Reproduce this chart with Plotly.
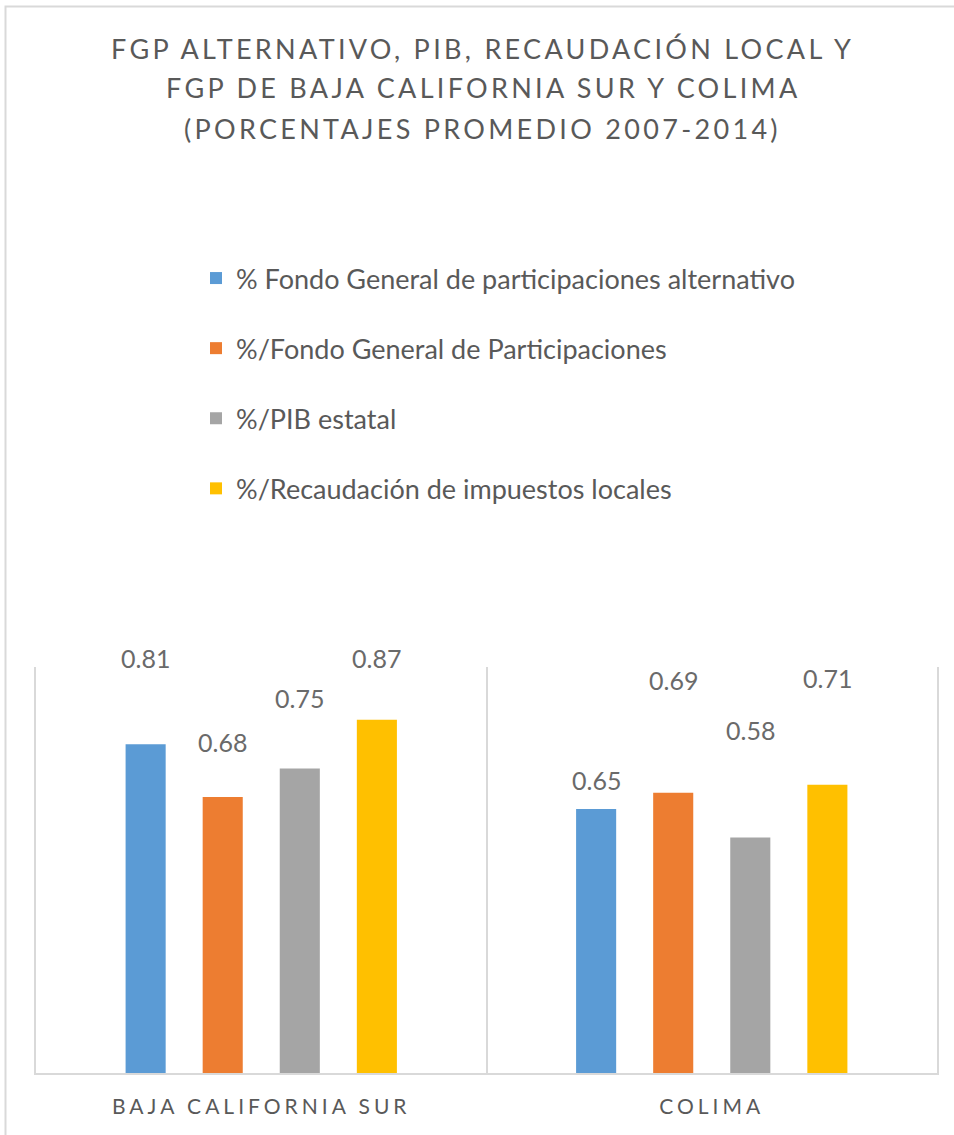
import plotly.graph_objects as go

# Entidades y series (porcentajes promedio 2007-2014)
categorias = ["BAJA CALIFORNIA SUR", "COLIMA"]
series = [
    "% Fondo General de participaciones alternativo",
    "%/Fondo General de Participaciones",
    "%/PIB estatal",
    "%/Recaudación de impuestos locales",
]
fgp_alternativo = [0.81, 0.65]
fgp = [0.68, 0.69]
pib_estatal = [0.75, 0.58]
recaudacion_local = [0.87, 0.71]
valores = [fgp_alternativo, fgp, pib_estatal, recaudacion_local]

titulo_lineas = [
    "FGP ALTERNATIVO, PIB, RECAUDACIÓN LOCAL Y",
    "FGP DE BAJA CALIFORNIA SUR Y COLIMA",
    "(PORCENTAJES PROMEDIO 2007-2014)",
]

colores = ["#5B9BD5", "#ED7D31", "#A5A5A5", "#FFC000"]
# desplazamiento vertical (px) de cada etiqueta sobre su barra, por entidad
desfase_etiquetas = [[86, 29], [55, 113], [71, 108], [62, 107]]
# desplazamiento horizontal (px) de cada serie dentro del grupo
desfase_series = [-115.5, -38.5, 38.5, 115.5]

W, H = 954, 1135
ML, MR, MT, MB = 36, 17, 667, 62
GRIS_TEXTO = "#595959"
GRIS_LINEA = "#D9D9D9"
FUENTE = "Lato, 'Open Sans', sans-serif"


def espaciado(texto, px):
    return f'<span style="letter-spacing:{px}px">{texto}</span>'


pw = W - ML - MR
ph = H - MT - MB


def px_x(p):
    return (p - ML) / pw


def px_y(p):
    return (H - MB - p) / ph


fig = go.Figure()
for nombre, vals, color in zip(series, valores, colores):
    fig.add_trace(go.Bar(
        x=categorias, y=vals, name=nombre, marker=dict(color=color, line_width=0),
        legendgroup=nombre, hoverinfo="skip",
    ))

anotaciones = []
for s, vals in enumerate(valores):
    for c, v in enumerate(vals):
        anotaciones.append(dict(
            x=categorias[c], y=v, xref="x", yref="y", text=f"{v:.2f}",
            showarrow=False, xshift=desfase_series[s], yshift=desfase_etiquetas[s][c],
            yanchor="middle", xanchor="center",
            font=dict(family=FUENTE, size=25, color="#6A6A6A"),
        ))

# título en tres líneas con espaciado entre letras
for i, linea in enumerate(titulo_lineas):
    anotaciones.append(dict(
        x=0.5, xref="paper", xanchor="center", xshift=-4,
        y=px_y(48 + 40 * i), yref="paper", yanchor="middle",
        text=espaciado(linea, 3.3), showarrow=False,
        font=dict(family=FUENTE, size=27, color=GRIS_TEXTO),
    ))

fig.update_layout(
    width=W, height=H,
    margin=dict(l=ML, r=MR, t=MT, b=MB),
    paper_bgcolor="white", plot_bgcolor="white",
    barmode="group", bargap=0.3156, bargroupgap=0.48,
    legend=dict(x=px_x(196), y=px_y(254), xanchor="left", yanchor="top",
                orientation="v", tracegroupgap=32, bgcolor="rgba(0,0,0,0)",
                font=dict(family=FUENTE, size=27, color=GRIS_TEXTO)),
    annotations=anotaciones,
    showlegend=True,
)
fig.update_xaxes(
    type="category", range=[-0.5, 1.5],
    tickvals=categorias, ticktext=[espaciado(c, 4) for c in categorias],
    tickson="boundaries", ticks="", showgrid=True, gridcolor=GRIS_LINEA, gridwidth=1.5,
    showline=True, linecolor=GRIS_LINEA, linewidth=2,
    tickfont=dict(family=FUENTE, size=21, color=GRIS_TEXTO), ticklabelstandoff=14,
)
fig.update_yaxes(
    range=[0, 1], showticklabels=False, showgrid=False, zeroline=False,
    showline=True, mirror=True, linecolor=GRIS_LINEA, linewidth=1.5,
)
# marco exterior del gráfico
fig.add_shape(type="rect", xref="paper", yref="paper",
              x0=px_x(5.5), x1=px_x(980), y0=px_y(1160), y1=px_y(6.5),
              line=dict(color=GRIS_LINEA, width=2), layer="below")

fig.write_html("out.html")
